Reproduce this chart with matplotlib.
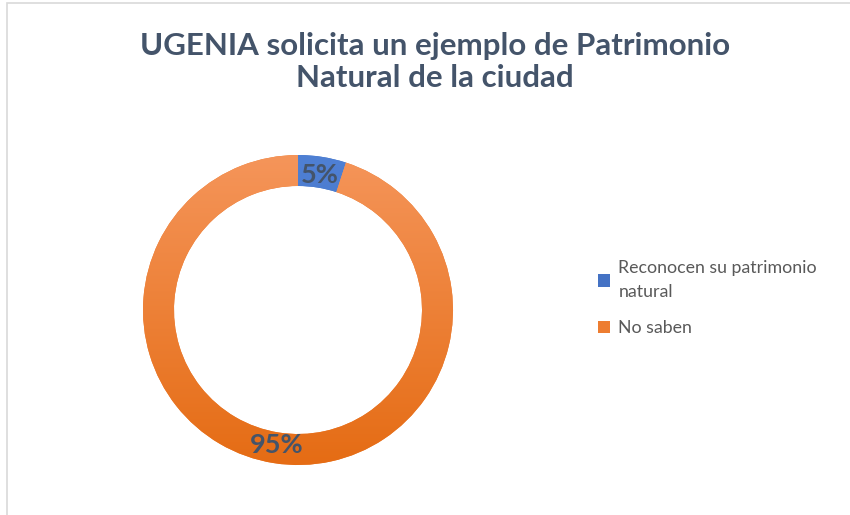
import numpy as np
import matplotlib.pyplot as plt
from matplotlib.patches import Rectangle
from matplotlib.colors import LinearSegmentedColormap

# data
labels = ['Reconocen su patrimonio\nnatural', 'No saben']
values = [5, 95]
title = 'UGENIA solicita un ejemplo de Patrimonio\nNatural de la ciudad'

W, H = 850, 515
fig = plt.figure(figsize=(W / 100, H / 100), dpi=100)
plt.rcParams['font.family'] = ['Lato', 'DejaVu Sans']

# chart area border (only top/left visible in the crop)
fig.add_artist(Rectangle((7 / W, -0.1), 1.2, (H - 3) / H + 0.1,
                         transform=fig.transFigure, fill=False,
                         edgecolor='#D9D9D9', linewidth=1.2))

fig.text(435 / W, 1 - 62 / H, title, ha='center', va='center',
         fontsize=22.5, color='#44546A', linespacing=1.15, fontweight='bold')

# pie axes: center (298, 310) px, radius 155 px
cx, cy, r = 298, 310, 155
ax = fig.add_axes([(cx - r) / W, (H - cy - r) / H, 2 * r / W, 2 * r / H])
wedges, texts, autotexts = ax.pie(values, startangle=90, counterclock=False,
                                  colors=['#4472C4', '#ED7D31'],
                                  wedgeprops=dict(width=0.2, edgecolor='none'),
                                  autopct='%1.0f%%', pctdistance=0.88,
                                  textprops=dict(color='#44546A', fontsize=19.5,
                                                 fontweight='bold'))
ax.set_xlim(-1, 1)
ax.set_ylim(-1, 1)
ax.set_aspect('equal')
ax.axis('off')

# vertical gradient inside each wedge
grads = [['#3A66B8', '#4F80D4'], ['#E56C14', '#F5955A']]
grad = np.linspace(0, 1, 256).reshape(-1, 1)
for w, (c0, c1) in zip(wedges, grads):
    cmap = LinearSegmentedColormap.from_list('g', [c0, c1])
    im = ax.imshow(grad, cmap=cmap, extent=[-1, 1, -1, 1], origin='lower',
                   aspect='auto', zorder=2)
    im.set_clip_path(w)

for t in autotexts:
    t.set_zorder(5)

leg = fig.legend(wedges, labels, loc='upper left',
                 bbox_to_anchor=(582 / W, 1 - 244 / H), frameon=False,
                 fontsize=12.8, labelcolor='#595959', handlelength=0.7,
                 handleheight=0.7, handletextpad=0.45, labelspacing=1.1)
for t in leg.get_texts():
    t.set_linespacing(1.65)

fig.savefig('out.png', dpi=100)
